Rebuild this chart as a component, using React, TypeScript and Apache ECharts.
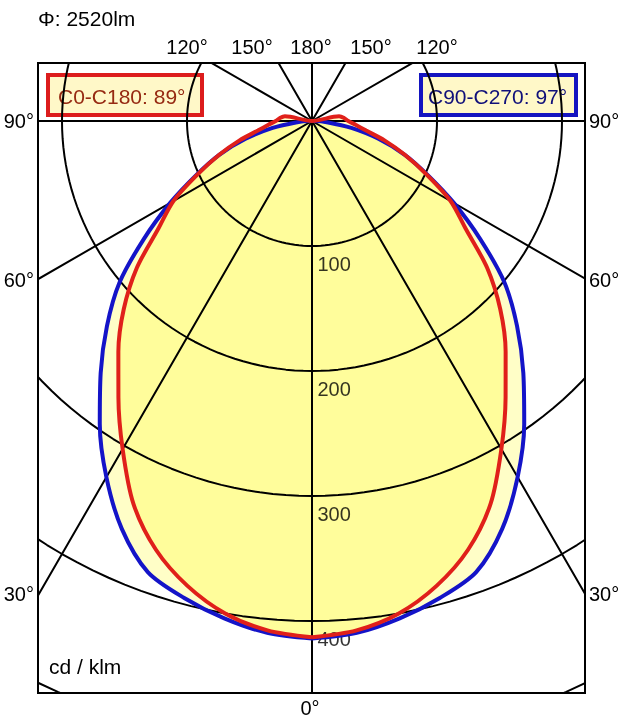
import { useEffect, useRef } from "react";
import * as echarts from "echarts";

// gamma angles (deg from nadir) and luminous intensity in cd/klm
const gammaAngles = [
  0, 5, 10, 15, 20, 25, 30, 35, 40, 45, 50, 55, 60, 65, 70, 75, 80, 85, 90,
  95, 100, 105, 110, 115, 120, 125, 130, 135, 140, 145, 150, 155, 160, 165,
  170, 175, 180,
];
const c0c180 = [
  413, 409, 400, 385, 365, 338, 303, 270, 241, 213, 183, 150, 128, 101, 79,
  60, 44, 35, 29, 26, 22, 0, 0, 0, 0, 0, 0, 0, 0, 0, 0, 0, 0, 0, 0, 0, 0,
];
const c90c270 = [
  414, 411, 404, 395, 384, 360, 329, 296, 263, 232, 201, 164, 131, 102, 79,
  55, 32, 13, 2, 0, 0, 0, 0, 0, 0, 0, 0, 0, 0, 0, 0, 0, 0, 0, 0, 0, 0,
];

const ringValues = [100, 200, 300, 400, 500];
const ringLabels = ["100", "200", "300", "400"];
const spokeAngles = [0, 30, 60, 90, 120, 150, 180];
const sideAngleLabels = ["90°", "60°", "30°"];
const topAngleLabels = ["120°", "150°", "180°", "150°", "120°"];
const fluxLabel = "Φ: 2520lm";
const unitLabel = "cd / klm";
const bottomLabel = "0°";
const legendC0 = "C0-C180: 89°";
const legendC90 = "C90-C270: 97°";

// layout (pixels)
const CX = 312;
const CY = 121;
const SCALE = 1.25; // px per cd/klm
const BOX = { left: 38, top: 63, right: 585, bottom: 693 };
const FONT = "'Liberation Sans', Arial, sans-serif";

const rad = (d: number) => (d * Math.PI) / 180;

function curvePoints(values: number[]): number[][] {
  const right = gammaAngles.map((g, i) => [
    values[i] * Math.sin(rad(g)),
    -values[i] * Math.cos(rad(g)),
  ]);
  const left = right.map(([x, y]) => [-x, y]).reverse();
  const all = [...right, ...left];
  return all.filter(
    (p, i) => i === 0 || p[0] !== all[i - 1][0] || p[1] !== all[i - 1][1]
  );
}

function label(text: string, x: number, y: number, align: string, size = 20) {
  return {
    type: "text",
    x,
    y,
    z: 50,
    style: {
      text,
      fontSize: size,
      fontFamily: FONT,
      fill: "#000",
      textAlign: align,
      align,
      textVerticalAlign: "middle",
      verticalAlign: "middle",
    },
  };
}

export default function App() {
  const chartRef = useRef<HTMLDivElement>(null);

  useEffect(() => {
    const chart = echarts.init(chartRef.current, null, { renderer: "svg" });

    const ringSeries = ringValues.map((r) => ({
      type: "line",
      data: Array.from({ length: 181 }, (_, k) => [
        r * Math.cos(rad(k * 2)),
        r * Math.sin(rad(k * 2)),
      ]),
      symbol: "none",
      silent: true,
      clip: true,
      z: 2,
      lineStyle: { color: "#000", width: 2 },
    }));

    const L = 900;
    const spokeSeries = spokeAngles.map((a) => ({
      type: "line",
      data: [
        [-L * Math.sin(rad(a)), -L * Math.cos(rad(a))],
        [0, 0],
        [L * Math.sin(rad(a)), -L * Math.cos(rad(a))],
      ],
      symbol: "none",
      silent: true,
      clip: true,
      z: 2,
      lineStyle: { color: "#000", width: 2 },
    }));

    const curves = [
      { name: "C90-C270", values: c90c270, color: "#1414c8" },
      { name: "C0-C180", values: c0c180, color: "#e0201a" },
    ];

    const topX = [187, 252, 311, 371, 437];
    const sideY = [121, 280, 594];

    const option = {
      animation: false,
      grid: {
        left: BOX.left,
        top: BOX.top,
        width: BOX.right - BOX.left,
        height: BOX.bottom - BOX.top,
        show: true,
        borderColor: "#000",
        borderWidth: 2,
        backgroundColor: "#fff",
      },
      xAxis: {
        type: "value",
        min: (BOX.left - CX) / SCALE,
        max: (BOX.right - CX) / SCALE,
        show: false,
      },
      yAxis: {
        type: "value",
        min: -(BOX.bottom - CY) / SCALE,
        max: (CY - BOX.top) / SCALE,
        show: false,
      },
      series: [
        {
          type: "custom",
          silent: true,
          z: 1,
          data: [[0, 0], [0, 0]],
          renderItem: (params: any, api: any) => {
            const c = curves[params.dataIndex];
            const pts = curvePoints(c.values).map((p) => api.coord(p));
            return {
              type: "polygon",
              shape: { points: pts, smooth: 0.3 },
              style: { fill: "rgba(255,250,0,0.22)" },
            };
          },
        },
        ...ringSeries,
        ...spokeSeries,
        {
          type: "scatter",
          silent: true,
          z: 3,
          symbolSize: 1,
          itemStyle: { color: "transparent" },
          data: ringLabels.map((t, i) => [0, -ringValues[i]]),
          label: {
            show: true,
            position: [6, 8],
            formatter: (p: any) => ringLabels[p.dataIndex],
            color: "#000",
            fontSize: 20,
            fontFamily: FONT,
          },
        },
        ...curves.map((c) => ({
          type: "line",
          name: c.name,
          data: curvePoints(c.values),
          symbol: "none",
          smooth: 0.3,
          z: 4,
          lineStyle: { color: c.color, width: 4 },
        })),
      ],
      graphic: [
        label(fluxLabel, BOX.left, 18, "left", 21),
        ...topAngleLabels.map((t, i) => label(t, topX[i], 47, "center")),
        ...sideAngleLabels.flatMap((t, i) => [
          label(t, BOX.left - 4, sideY[i], "right"),
          label(t, BOX.right + 4, sideY[i], "left"),
        ]),
        label(bottomLabel, CX - 2, 708, "center"),
        label(unitLabel, 49, 666, "left", 21),
        {
          type: "group",
          z: 100,
          children: [
            {
              type: "rect",
              shape: { x: 48, y: 75, width: 154, height: 40 },
              style: { fill: "#fff8c8", stroke: "#dc1c1c", lineWidth: 4 },
            },
            {
              type: "text",
              x: 58,
              y: 96,
              style: {
                text: legendC0,
                fontSize: 21,
                fontFamily: FONT,
                fill: "#962a12",
                textVerticalAlign: "middle",
                verticalAlign: "middle",
              },
            },
            {
              type: "rect",
              shape: { x: 421, y: 75, width: 155, height: 40 },
              style: { fill: "#fff8c8", stroke: "#1414c0", lineWidth: 4 },
            },
            {
              type: "text",
              x: 428,
              y: 96,
              style: {
                text: legendC90,
                fontSize: 21,
                fontFamily: FONT,
                fill: "#10107a",
                textVerticalAlign: "middle",
                verticalAlign: "middle",
              },
            },
          ],
        },
      ],
    };

    chart.setOption(option as any);
    return () => {
      chart.dispose();
    };
  }, []);

  return (
    <div
      ref={chartRef}
      style={{ position: "fixed", left: 0, top: 0, width: 620, height: 720 }}
    ></div>
  );
}
